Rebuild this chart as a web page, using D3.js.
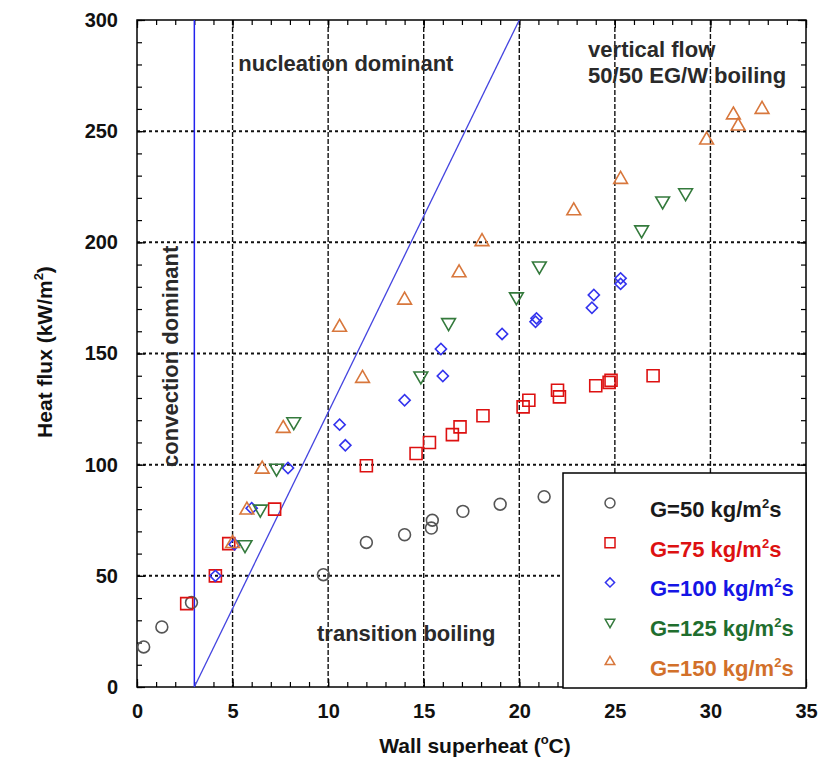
<!DOCTYPE html>
<html lang="en">
<head>
<meta charset="UTF-8">
<title>heat flux</title>
<script src="https://cdn.jsdelivr.net/npm/d3@7/dist/d3.min.js"></script>
<style>
body{margin:0;background:#fff;}
text{font-family:"Liberation Sans",Arial,sans-serif;}
</style>
</head>
<body>
<script>
var width=830, height=767;
var plotLeft=137, plotRight=806, plotTop=20, plotBottom=687;

// data: [wall superheat (C), heat flux (kW/m2)]
var massFlux=[50,75,100,125,150];
var g50=[[0.35,18],[1.3,27],[2.85,38],[9.75,50.5],[12,65],[14,68.5],[15.45,75],[15.4,71.5],[17.05,79],[19,82.2],[21.3,85.6]];
var g75=[[2.6,37.5],[4.1,50],[4.8,64.5],[7.2,80],[12,99.5],[14.6,105],[15.3,110],[16.5,113.5],[16.9,117],[18.1,122],[20.2,126],[20.5,129],[22,133.5],[22.1,130.5],[24,135.5],[24.7,137],[24.8,138],[27,140]];
var g100=[[4.1,50],[5.1,64.2],[6,80.4],[7.9,98.5],[10.9,108.7],[10.6,118],[14,129],[16,139.9],[15.9,152],[19.1,158.8],[20.85,164.3],[20.9,165.8],[23.8,170.6],[23.9,176.3],[25.3,183.8],[25.3,181.3]];
var g125=[[5.65,64],[6.45,80],[7.3,98.4],[8.2,119.3],[14.85,139.9],[16.3,163.9],[19.85,175.5],[21.05,189.4],[26.4,205.6],[27.5,218.6],[28.7,222.3]];
var g150=[[5,64.5],[5.75,79.6],[6.55,98],[7.65,116.3],[10.6,161.8],[11.8,138.8],[14,174],[16.85,186.3],[18.05,200.3],[22.85,214.2],[25.3,228.3],[29.8,246],[31.2,257.3],[31.45,252.3],[32.7,259.8]];
var seriesData=[g50,g75,g100,g125,g150];

var xTicks=[0,5,10,15,20,25,30,35];
var yTicks=[0,50,100,150,200,250,300];

// boundary lines
var convectionLimit=3;
var onsetLine=[[3,0],[20,300]];

var markColors=["#555555","#dd1111","#3333ee","#347a3c","#d8773c"];
var textColors=["#1a1a1a","#dd1111","#1515e5","#1f6e2e","#d2702a"];
var shapes=[d3.symbolCircle,d3.symbolSquare,d3.symbolSquare,d3.symbolTriangle,d3.symbolTriangle];
var rotations=[0,0,45,180,0];
var plotSizes=[110,144,62,82,82];
var legendSizes=[78,100,42,40,40];

var svg=d3.select("body").append("svg").attr("width",width).attr("height",height);

var x=d3.scaleLinear().domain([0,35]).range([plotLeft,plotRight]);
var y=d3.scaleLinear().domain([0,300]).range([plotBottom,plotTop]);

// grid
svg.append("g").selectAll("line")
    .data(xTicks.slice(1,-1))
    .enter().append("line")
    .attr("x1",function(d){return x(d);}).attr("x2",function(d){return x(d);})
    .attr("y1",plotTop).attr("y2",plotBottom)
    .attr("stroke","#111").attr("stroke-width",1.4).attr("stroke-dasharray","5,2");
svg.append("g").selectAll("line")
    .data(yTicks.slice(1,-1))
    .enter().append("line")
    .attr("y1",function(d){return y(d);}).attr("y2",function(d){return y(d);})
    .attr("x1",plotLeft).attr("x2",plotRight)
    .attr("stroke","#111").attr("stroke-width",2).attr("stroke-dasharray","3,3");

// axes (ticks inside)
function styleAxis(g){
    g.select(".domain").remove();
    g.selectAll(".tick line").attr("stroke","#000").attr("stroke-width",1.2);
    g.selectAll("text").attr("font-size",20).attr("font-weight","bold").attr("fill","#111")
        .style("font-family","'Liberation Sans',Arial,sans-serif");
}
svg.append("g").attr("transform","translate(0,"+plotBottom+")")
    .call(d3.axisBottom(x).tickValues(d3.range(0,36,1)).tickSize(-5).tickFormat("")).call(styleAxis);
svg.append("g").attr("transform","translate(0,"+plotBottom+")")
    .call(d3.axisBottom(x).tickValues(xTicks).tickSize(-8).tickPadding(17)).call(styleAxis);
svg.append("g").attr("transform","translate(0,"+plotTop+")")
    .call(d3.axisTop(x).tickValues(d3.range(0,36,1)).tickSize(-5).tickFormat("")).call(styleAxis);
svg.append("g").attr("transform","translate(0,"+plotTop+")")
    .call(d3.axisTop(x).tickValues(xTicks).tickSize(-8).tickFormat("")).call(styleAxis);
svg.append("g").attr("transform","translate("+plotLeft+",0)")
    .call(d3.axisLeft(y).tickValues(d3.range(0,301,10)).tickSize(-5).tickFormat("")).call(styleAxis);
svg.append("g").attr("transform","translate("+plotLeft+",0)")
    .call(d3.axisLeft(y).tickValues(yTicks).tickSize(-8).tickPadding(19)).call(styleAxis);
svg.append("g").attr("transform","translate("+plotRight+",0)")
    .call(d3.axisRight(y).tickValues(d3.range(0,301,10)).tickSize(-5).tickFormat("")).call(styleAxis);
svg.append("g").attr("transform","translate("+plotRight+",0)")
    .call(d3.axisRight(y).tickValues(yTicks).tickSize(-8).tickFormat("")).call(styleAxis);

svg.append("rect").attr("x",plotLeft).attr("y",plotTop)
    .attr("width",plotRight-plotLeft).attr("height",plotBottom-plotTop)
    .attr("fill","none").attr("stroke","#000").attr("stroke-width",1.5);

// boundary lines
svg.append("line")
    .attr("x1",x(convectionLimit)).attr("x2",x(convectionLimit))
    .attr("y1",y(0)).attr("y2",y(300))
    .attr("stroke","#2222ee").attr("stroke-width",1.5);
svg.append("path")
    .attr("d",d3.line().x(function(d){return x(d[0]);}).y(function(d){return y(d[1]);})(onsetLine))
    .attr("stroke","#4444e0").attr("stroke-width",1.3).attr("fill","none");

// data points
seriesData.forEach(function(data,i){
    svg.append("g").selectAll("path")
        .data(data)
        .enter().append("path")
        .attr("d",d3.symbol().type(shapes[i]).size(plotSizes[i]))
        .attr("transform",function(d){return "translate("+x(d[0])+","+y(d[1])+") rotate("+rotations[i]+")";})
        .attr("fill","none").attr("stroke",markColors[i]).attr("stroke-width",1.6);
});

// region labels
function note(tx,ty,str){
    return svg.append("text").attr("x",tx).attr("y",ty)
        .attr("font-size",22).attr("font-weight","bold").attr("fill","#2a2a2a").text(str);
}
note(x(5.3),y(277),"nucleation dominant");
note(x(23.6),y(283.4),"vertical flow");
note(x(23.6),y(271.7),"50/50 EG/W boiling");
note(x(9.42),y(20.7),"transition boiling");
note(0,0,"convection dominant")
    .attr("transform","translate("+x(2.15)+","+y(99)+") rotate(-90)");

// legend
var lx=563, ly=473;
svg.append("rect").attr("x",lx).attr("y",ly).attr("width",plotRight-lx).attr("height",plotBottom-ly+1)
    .attr("fill","#fff").attr("stroke","#000").attr("stroke-width",1.5);
massFlux.forEach(function(g,i){
    var cy=503+i*39.7;
    svg.append("path")
        .attr("d",d3.symbol().type(shapes[i]).size(legendSizes[i]))
        .attr("transform","translate(610,"+cy+") rotate("+rotations[i]+")")
        .attr("fill","none").attr("stroke",markColors[i]).attr("stroke-width",1.5);
    var t=svg.append("text").attr("x",650).attr("y",cy+14)
        .attr("font-size",22).attr("font-weight","bold").attr("fill",textColors[i]);
    t.append("tspan").text("G="+g+" kg/m");
    t.append("tspan").attr("font-size",13).attr("dy",-9).text("2");
    t.append("tspan").attr("dy",9).text("s");
});

// axis titles
var xt=svg.append("text").attr("x",475).attr("y",753).attr("text-anchor","middle")
    .attr("font-size",21).attr("font-weight","bold").attr("fill","#111");
xt.append("tspan").text("Wall superheat (");
xt.append("tspan").attr("font-size",13).attr("dy",-9).text("o");
xt.append("tspan").attr("dy",9).text("C)");

var yt=svg.append("text").attr("transform","translate(52,352) rotate(-90)").attr("text-anchor","middle")
    .attr("font-size",21).attr("font-weight","bold").attr("fill","#111");
yt.append("tspan").text("Heat flux (kW/m");
yt.append("tspan").attr("font-size",13).attr("dy",-9).text("2");
yt.append("tspan").attr("dy",9).text(")");
</script>
</body>
</html>
